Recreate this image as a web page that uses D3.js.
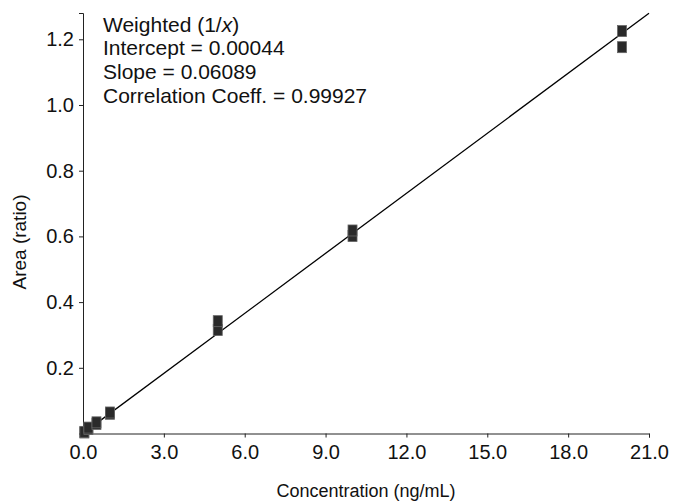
<!DOCTYPE html>
<html><head><meta charset="utf-8">
<script src="https://cdn.jsdelivr.net/npm/d3@7/dist/d3.min.js"></script>
<style>body{margin:0;background:#fff}svg{display:block}text{font-family:"Liberation Sans",Arial,sans-serif}</style>
</head><body><svg id="c" width="674" height="502"></svg>
<script>
const concentrations = [0.05,0.05,0.2,0.2,0.5,0.5,1.0,1.0,5,5,10,10,20,20];
const areaRatios = [0.003,0.005,0.014,0.018,0.029,0.034,0.060,0.064,0.315,0.342,0.601,0.618,1.176,1.225];
const xTicks = [0,3,6,9,12,15,18,21];
const yTicks = [0,0.2,0.4,0.6,0.8,1.0,1.2];
const fitIntercept = 0.00044, fitSlope = 0.06089;
const annotation = ["Weighted (1/x)","Intercept = 0.00044","Slope = 0.06089","Correlation Coeff. = 0.99927"];

const svg = d3.select("#c");
const x = d3.scaleLinear().domain([0,21]).range([83,649]);
const y = d3.scaleLinear().domain([0,1.28]).range([433.5,13]);
const FS = 20;

const xa = svg.append("g").attr("transform","translate(0,433.5)")
  .call(d3.axisBottom(x).tickValues(xTicks).tickFormat(d=>d.toFixed(1)).tickSizeOuter(0).tickSize(4).tickPadding(7));
const ya = svg.append("g").attr("transform","translate(83,0)")
  .call(d3.axisLeft(y).tickValues(yTicks).tickFormat(d=>d===0?"":d.toFixed(1)).tickSizeOuter(0).tickSize(4).tickPadding(5));
[xa,ya].forEach(g=>{g.selectAll("text").attr("font-size",FS).attr("fill","#111").style("font-family","Liberation Sans, Arial, sans-serif");
  g.selectAll("line,path").attr("stroke","#222");});

svg.append("line").attr("x1",x(0)).attr("y1",y(fitIntercept)).attr("x2",x(21)).attr("y2",y(fitIntercept+fitSlope*21))
  .attr("stroke","#000").attr("stroke-width",1.3);

svg.append("g").selectAll("rect").data(concentrations.map((c,i)=>[c,areaRatios[i]])).join("rect")
  .attr("x",d=>x(d[0])-4.5).attr("y",d=>y(d[1])-5.5).attr("width",9).attr("height",11)
  .attr("fill","#2a2a2a").attr("stroke","#666").attr("stroke-width",0.8);

const ann = svg.append("text").attr("x",103).attr("font-size",21).attr("fill","#111");
annotation.forEach((s,i)=>{
  const t = ann.append("tspan").attr("x",103).attr("y",31.5+i*23.8);
  if(i===0){t.text("Weighted (1/"); ann.append("tspan").attr("font-style","italic").text("x"); ann.append("tspan").text(")");}
  else t.text(s);
});

svg.append("text").attr("x",366).attr("y",497).attr("text-anchor","middle").attr("font-size",18).attr("fill","#111").text("Concentration (ng/mL)");
svg.append("text").attr("transform","translate(26,242) rotate(-90)").attr("text-anchor","middle").attr("font-size",19).attr("fill","#111").text("Area (ratio)");
</script></body></html>
